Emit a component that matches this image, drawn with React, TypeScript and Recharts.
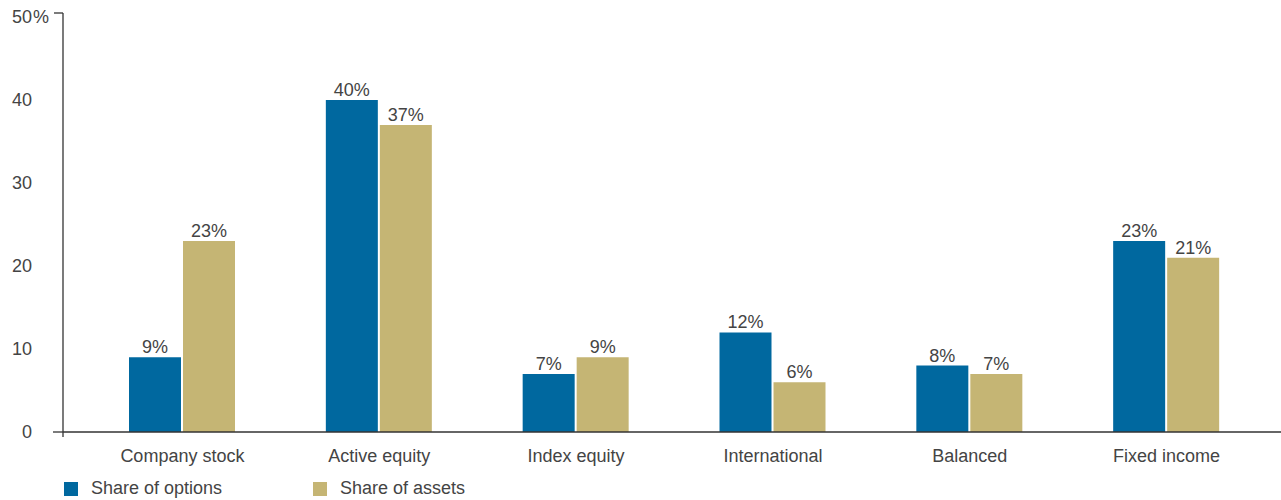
import React from 'react';
import { BarChart, Bar, XAxis, YAxis, LabelList } from 'recharts';

const categories = ['Company stock', 'Active equity', 'Index equity', 'International', 'Balanced', 'Fixed income'];
const shareOfOptions = [9, 40, 7, 12, 8, 23];
const shareOfAssets = [23, 37, 9, 6, 7, 21];
const yTicks = [0, 10, 20, 30, 40, 50];

const BLUE = '#00689f';
const TAN = '#c5b574';
const TEXT = '#444';
const FONT = '"Liberation Sans", Arial, sans-serif';

const data = categories.map((name, i) => ({
    name,
    options: shareOfOptions[i],
    assets: shareOfAssets[i],
}));

const YTick = (props: any) => {
    const { x, y, payload } = props;
    const axisX = x + 31;
    const v = payload.value;
    return (
        <g>
            <text x={x} y={y} dy="0.35em" textAnchor="end" fill={TEXT} fontSize={18} fontFamily={FONT}>
                {v}
            </text>
            {v === 50 && (
                <>
                    <text x={x + 1} y={y} dy="0.35em" textAnchor="start" fill={TEXT} fontSize={18} fontFamily={FONT}>%</text>
                    <line x1={axisX - 9} y1={y - 4} x2={axisX} y2={y - 4} stroke="#333" strokeWidth={1.3} />
                    <line x1={axisX} y1={y - 4} x2={axisX} y2={y} stroke="#333" strokeWidth={1.3} />
                </>
            )}
            {v === 0 && (
                <>
                    <line x1={axisX - 10} y1={y} x2={axisX} y2={y} stroke="#333" strokeWidth={1.3} />
                    <line x1={axisX} y1={y} x2={axisX} y2={y + 5} stroke="#333" strokeWidth={1.3} />
                </>
            )}
        </g>
    );
};

export default function App() {
    return (
        <div style={{ position: 'absolute', left: 0, top: 0, width: 1281, height: 500, background: '#fff' }}>
            <BarChart
                width={1281}
                height={500}
                data={data}
                margin={{ top: 17, right: 0, left: 0, bottom: 0 }}
                barGap={2}
                barCategoryGap="23%"
            >
                <XAxis
                    dataKey="name"
                    height={68}
                    padding={{ left: 21, right: 16 }}
                    axisLine={{ stroke: '#333', strokeWidth: 1.3 }}
                    tickLine={false}
                    tickSize={0}
                    tickMargin={17}
                    tick={{ fill: TEXT, fontSize: 18, fontFamily: FONT }}
                />
                <YAxis
                    width={63}
                    domain={[0, 50]}
                    ticks={yTicks}
                    interval={0}
                    axisLine={{ stroke: '#333', strokeWidth: 1.3 }}
                    tickLine={false}
                    tickSize={0}
                    tickMargin={31}
                    tick={<YTick />}
                />
                <Bar dataKey="options" fill={BLUE} barSize={52} isAnimationActive={false}>
                    <LabelList dataKey="options" position="top" offset={4} formatter={(v: any) => `${v}%`} fill={TEXT} fontSize={18} fontFamily={FONT} />
                </Bar>
                <Bar dataKey="assets" fill={TAN} barSize={52} isAnimationActive={false}>
                    <LabelList dataKey="assets" position="top" offset={4} formatter={(v: any) => `${v}%`} fill={TEXT} fontSize={18} fontFamily={FONT} />
                </Bar>
            </BarChart>
            <div style={{ position: 'absolute', left: 64, top: 478, display: 'flex', fontFamily: FONT, fontSize: 18, color: TEXT }}>
                <div style={{ display: 'flex', alignItems: 'center', width: 249 }}>
                    <span style={{ width: 14, height: 14, background: BLUE, marginRight: 13 }} />
                    <span>Share of options</span>
                </div>
                <div style={{ display: 'flex', alignItems: 'center' }}>
                    <span style={{ width: 14, height: 14, background: TAN, marginRight: 13 }} />
                    <span>Share of assets</span>
                </div>
            </div>
        </div>
    );
}
